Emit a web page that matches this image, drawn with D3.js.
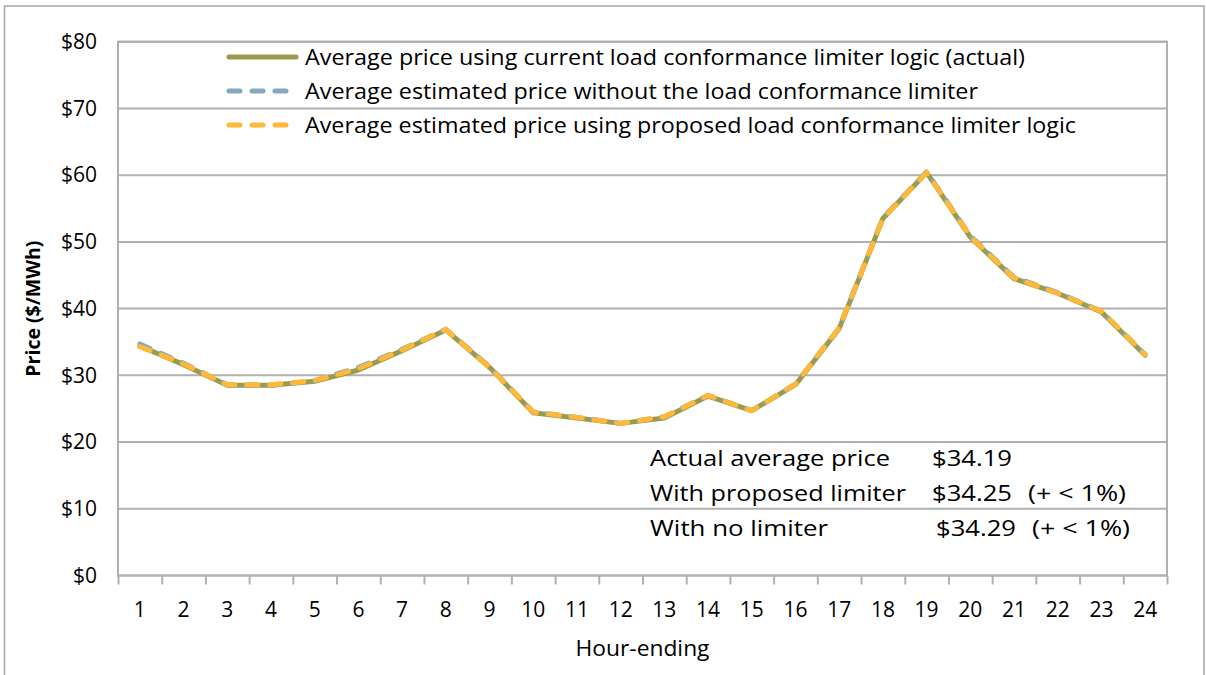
<!DOCTYPE html>
<html>
<head>
<meta charset="utf-8">
<script src="https://cdn.jsdelivr.net/npm/d3@7"></script>
<style>
  body { margin: 0; background: #fff; }
  svg text { font-family: "Open Sans", sans-serif; fill: #000; }
</style>
</head>
<body>
<div id="chartContainer"></div>
<script>
// hours along the x axis
var hours = d3.range(1, 25);

// average prices ($/MWh)
var actualPrice   = [34.4, 31.6, 28.5, 28.5, 29.1, 30.8, 33.7, 36.8, 31.2, 24.4, 23.6, 22.8,
                     23.6, 26.9, 24.7, 28.6, 37.0, 53.5, 60.4, 50.7, 44.5, 42.3, 39.5, 33.0];
var noLimiter     = [34.7, 31.8, 28.6, 28.5, 29.2, 31.2, 33.9, 36.9, 31.3, 24.5, 23.7, 22.8,
                     23.8, 27.0, 24.7, 28.7, 37.1, 53.6, 60.5, 50.9, 44.7, 42.4, 39.6, 33.1];
var proposedLimit = [34.3, 31.7, 28.6, 28.6, 29.2, 31.0, 33.8, 36.9, 31.2, 24.5, 23.7, 22.8,
                     23.8, 27.0, 24.7, 28.7, 37.1, 53.5, 60.4, 50.8, 44.6, 42.3, 39.6, 33.1];

var yTicks = [0, 10, 20, 30, 40, 50, 60, 70, 80];

var legendLabels = [
  "Average price using current load conformance limiter logic (actual)",
  "Average estimated price without the load conformance limiter",
  "Average estimated price using proposed load conformance limiter logic"
];

var noteLabels = ["Actual average price", "With proposed limiter", "With no limiter"];
var noteValues = ["$34.19", "$34.25", "$34.29"];
var noteChange = ["", "(+ < 1%)", "(+ < 1%)"];

function init() {
    var w = 1207, h = 675;
    var left = 118, right = 1167, top = 41.7, bottom = 575.5;

    var svg = d3.select("#chartContainer")
                .append("svg")
                .attr("width", w)
                .attr("height", h);

    // outer chart frame
    svg.append("rect")
       .attr("x", 4.5).attr("y", 6)
       .attr("width", 1199.5).attr("height", 700)
       .attr("fill", "none")
       .attr("stroke", "#a6a6a6")
       .attr("stroke-width", 1.5);

    var x = d3.scaleBand().domain(hours).range([left, right]);
    var xEdge = d3.scaleLinear().domain([0, 24]).range([left, right]);
    var y = d3.scaleLinear().domain([0, 80]).range([bottom, top]);

    // horizontal gridlines
    svg.append("g")
       .selectAll("line")
       .data(yTicks)
       .enter()
       .append("line")
       .attr("x1", left).attr("x2", right)
       .attr("y1", d => y(d)).attr("y2", d => y(d))
       .attr("stroke", "#b0b0b0")
       .attr("stroke-width", 2);

    // plot area border
    svg.append("rect")
       .attr("x", left).attr("y", top)
       .attr("width", right - left).attr("height", bottom - top)
       .attr("fill", "none")
       .attr("stroke", "#b0b0b0")
       .attr("stroke-width", 2);

    // y axis labels
    var yAxis = d3.axisLeft(y)
                  .tickValues(yTicks)
                  .tickSize(0)
                  .tickPadding(21)
                  .tickFormat(d => "$" + d);
    var gy = svg.append("g").attr("transform", "translate(" + left + ",0)").call(yAxis);
    gy.select(".domain").remove();
    gy.selectAll("text").style("font-size", "21px").style("font-family", "'Open Sans', sans-serif");

    // x axis tick marks at category edges
    var xTickAxis = d3.axisBottom(xEdge)
                      .tickValues(d3.range(0, 25))
                      .tickSize(9)
                      .tickFormat("");
    var gxt = svg.append("g").attr("transform", "translate(0," + bottom + ")").call(xTickAxis);
    gxt.select(".domain").remove();
    gxt.selectAll("line").attr("stroke", "#b0b0b0").attr("stroke-width", 2);

    // x axis labels at category centres
    var xAxis = d3.axisBottom(x).tickSize(0).tickPadding(27);
    var gx = svg.append("g").attr("transform", "translate(0," + bottom + ")").call(xAxis);
    gx.select(".domain").remove();
    gx.selectAll("text").style("font-size", "21px").style("font-family", "'Open Sans', sans-serif");

    // axis titles
    svg.append("text")
       .attr("x", (left + right) / 2)
       .attr("y", 656)
       .attr("text-anchor", "middle")
       .attr("textLength", 134)
       .attr("lengthAdjust", "spacingAndGlyphs")
       .style("font-size", "21.5px")
       .text("Hour-ending");

    svg.append("text")
       .attr("transform", "translate(40," + ((top + bottom) / 2) + ") rotate(-90)")
       .attr("text-anchor", "middle")
       .style("font-size", "19.5px")
       .style("font-weight", "bold")
       .text("Price ($/MWh)");

    // series lines, actual at the bottom, proposed on top
    var series = [
        { values: actualPrice,   color: "#9c9b4c", dash: null },
        { values: noLimiter,     color: "#86a8bd", dash: "11,12" },
        { values: proposedLimit, color: "#ffb937", dash: "11,12" }
    ];

    var line = d3.line()
                 .x((d, i) => x(hours[i]) + x.bandwidth() / 2)
                 .y(d => y(d));

    svg.selectAll("path.series")
       .data(series)
       .enter()
       .append("path")
       .attr("class", "series")
       .attr("d", d => line(d.values))
       .attr("fill", "none")
       .attr("stroke", d => d.color)
       .attr("stroke-width", 5)
       .attr("stroke-linecap", "round")
       .attr("stroke-linejoin", "round")
       .attr("stroke-dasharray", d => d.dash);

    // legend
    var legend = svg.append("g");
    var rowY = [57, 91, 125];
    var legendWidth = [720, 673, 771];
    series.forEach(function(s, i) {
        legend.append("line")
              .attr("x1", 229).attr("x2", 296)
              .attr("y1", rowY[i]).attr("y2", rowY[i])
              .attr("stroke", s.color)
              .attr("stroke-width", 5)
              .attr("stroke-linecap", "round")
              .attr("stroke-dasharray", s.dash);
        legend.append("text")
              .attr("x", 305)
              .attr("y", rowY[i])
              .attr("dy", "0.35em")
              .attr("textLength", legendWidth[i])
              .attr("lengthAdjust", "spacingAndGlyphs")
              .style("font-size", "21.5px")
              .text(legendLabels[i]);
    });

    // average price note
    var noteY = [458, 493, 528];
    var noteWidth = [240, 256, 178];
    var noteValX = [932, 932, 936];
    var noteChgX = [1028, 1028, 1032];
    noteLabels.forEach(function(t, i) {
        svg.append("text").attr("x", 650).attr("y", noteY[i]).attr("dy", "0.35em")
           .attr("textLength", noteWidth[i]).attr("lengthAdjust", "spacingAndGlyphs")
           .style("font-size", "22px").text(t);
        svg.append("text").attr("x", noteValX[i]).attr("y", noteY[i]).attr("dy", "0.35em")
           .attr("textLength", 80).attr("lengthAdjust", "spacingAndGlyphs")
           .style("font-size", "22px").text(noteValues[i]);
        if (noteChange[i]) {
            svg.append("text").attr("x", noteChgX[i]).attr("y", noteY[i]).attr("dy", "0.35em")
               .attr("textLength", 98).attr("lengthAdjust", "spacingAndGlyphs")
               .style("font-size", "22px").text(noteChange[i]);
        }
    });
}

window.onload = init;
</script>
</body>
</html>
